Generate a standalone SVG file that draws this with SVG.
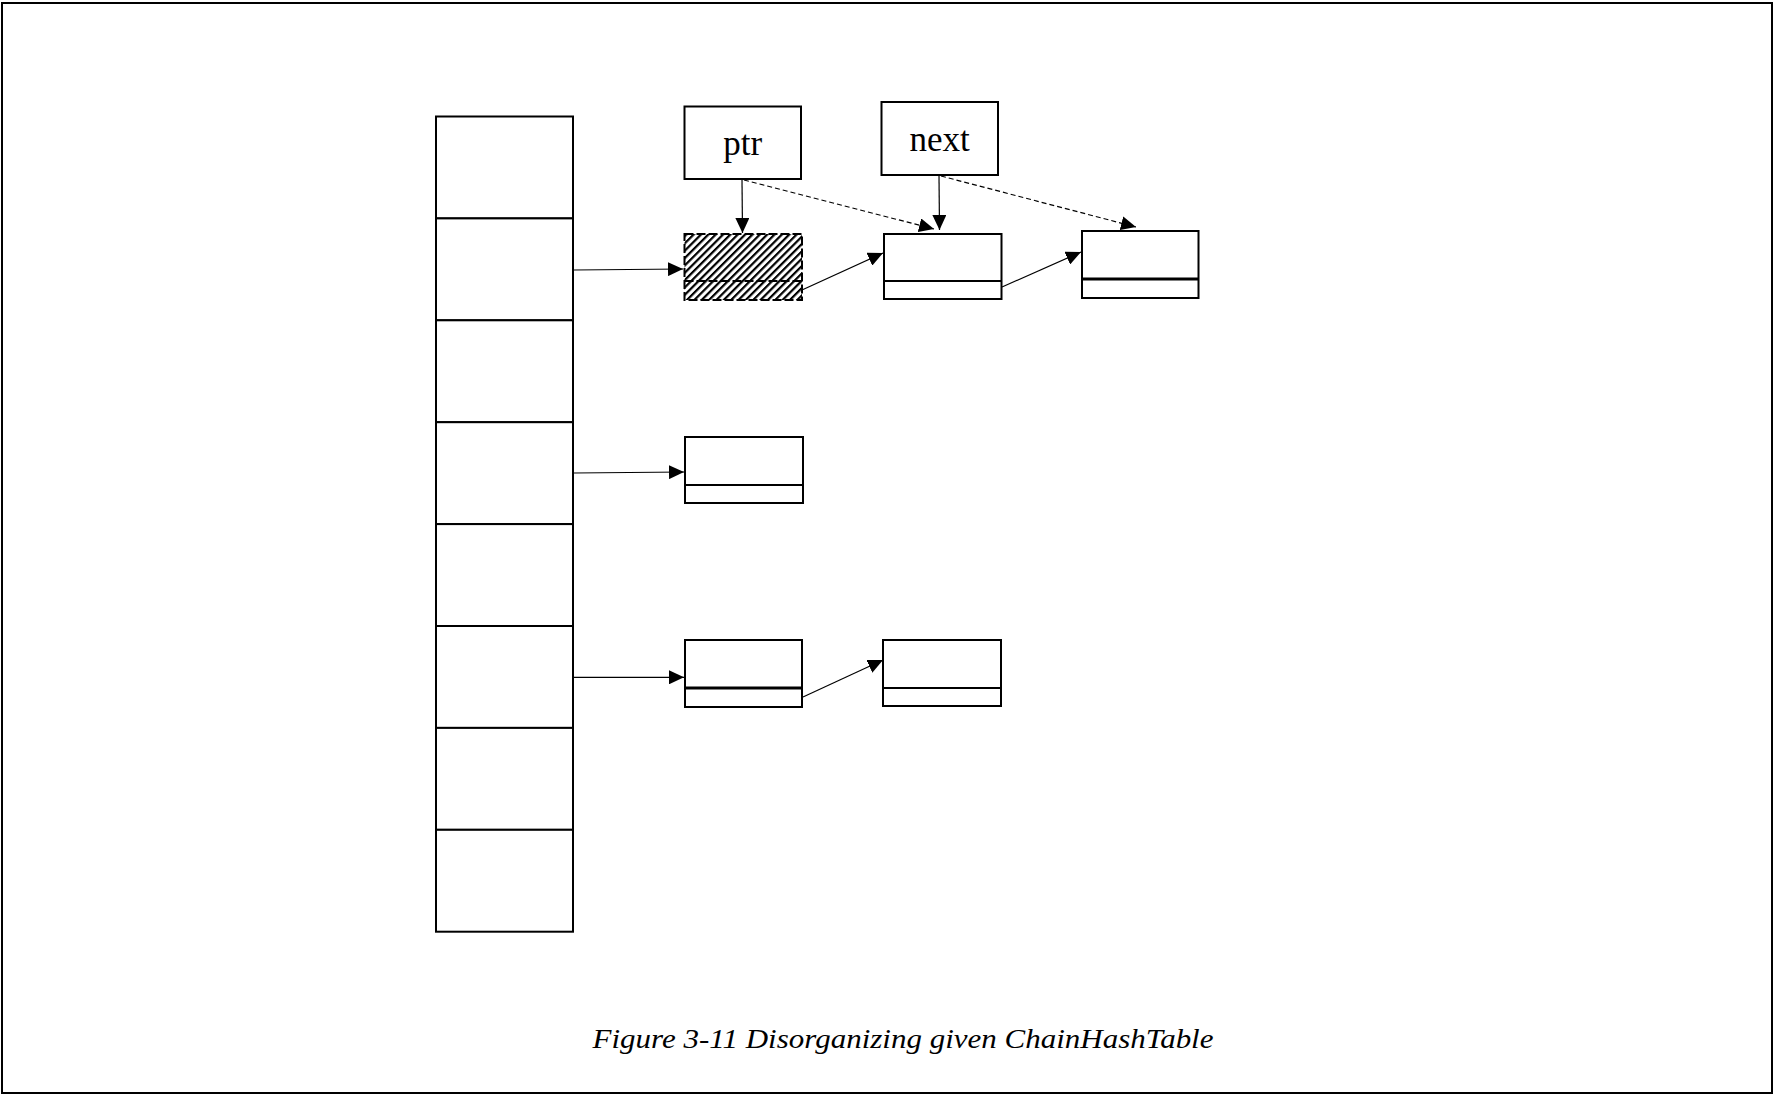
<svg xmlns="http://www.w3.org/2000/svg" width="1774" height="1096" viewBox="0 0 1774 1096">
<style>
.frame{fill:none;stroke:#000;stroke-width:2}
.box{fill:#fff;stroke:#000;stroke-width:2}
.cell{fill:#fff;stroke:#000;stroke-width:2}
.conn{fill:none;stroke:#000;stroke-width:1.2}
.dash{fill:none;stroke:#000;stroke-width:1.2;stroke-dasharray:5,3}
.lbl{font-family:"Liberation Serif","Times New Roman",serif;font-size:35px;fill:#000;text-anchor:middle}
.cap{font-family:"Liberation Serif","Times New Roman",serif;font-size:27.5px;font-style:italic;fill:#000;text-anchor:middle}
</style>
<defs>
<marker id="ah" markerUnits="userSpaceOnUse" markerWidth="16" markerHeight="14" refX="15" refY="7" orient="auto">
<path d="M0,0 L15,7 L0,14 z" fill="#000"/>
</marker>
<pattern id="hatch" patternUnits="userSpaceOnUse" width="5.2" height="5.2" patternTransform="rotate(45)">
<rect width="5.2" height="5.2" fill="#fff"/>
<line x1="1" y1="0" x2="1" y2="5.2" stroke="#000" stroke-width="2.4"/>
</pattern>
</defs>
<rect class="frame" x="2" y="3" width="1770" height="1090"/>

<g id="table">
<rect class="cell" x="436" y="116.5" width="137" height="101.9"/>
<rect class="cell" x="436" y="218.4" width="137" height="101.9"/>
<rect class="cell" x="436" y="320.3" width="137" height="101.9"/>
<rect class="cell" x="436" y="422.2" width="137" height="101.9"/>
<rect class="cell" x="436" y="524.1" width="137" height="101.9"/>
<rect class="cell" x="436" y="626.0" width="137" height="101.9"/>
<rect class="cell" x="436" y="727.9" width="137" height="101.9"/>
<rect class="cell" x="436" y="829.8" width="137" height="101.9"/>
</g>

<g id="ptr">
<rect class="box" x="684.5" y="106.5" width="116.5" height="72.5"/>
<text class="lbl" x="742.8" y="155">ptr</text>
</g>
<g id="next">
<rect class="box" x="881.5" y="102" width="116.5" height="73"/>
<text class="lbl" x="939.7" y="151">next</text>
</g>

<g id="node1">
<rect x="684.5" y="234" width="117.5" height="66" fill="url(#hatch)"/>
<rect x="684.5" y="234" width="117.5" height="66" fill="none" stroke="#000" stroke-width="2" stroke-dasharray="9,3"/>
<line x1="684.5" y1="281" x2="802" y2="281" stroke="#000" stroke-width="2" stroke-dasharray="9,3"/>
</g>
<g id="node2">
<rect class="box" x="884" y="234" width="117.5" height="65"/>
<line x1="884" y1="281" x2="1001.5" y2="281" stroke="#000" stroke-width="2"/>
</g>
<g id="node3">
<rect class="box" x="1082" y="231" width="116.5" height="67"/>
<line x1="1082" y1="279" x2="1198.5" y2="279" stroke="#000" stroke-width="3"/>
</g>
<g id="node4">
<rect class="box" x="685" y="437" width="118" height="66"/>
<line x1="685" y1="485" x2="803" y2="485" stroke="#000" stroke-width="2"/>
</g>
<g id="node5">
<rect class="box" x="685" y="640" width="117" height="67"/>
<line x1="685" y1="688" x2="802" y2="688" stroke="#000" stroke-width="3"/>
</g>
<g id="node6">
<rect class="box" x="883" y="640" width="118" height="66"/>
<line x1="883" y1="688" x2="1001" y2="688" stroke="#000" stroke-width="2"/>
</g>

<g id="connectors">
<line class="conn" x1="574" y1="270" x2="683" y2="269" marker-end="url(#ah)"/>
<line class="conn" x1="574" y1="473" x2="684" y2="472" marker-end="url(#ah)"/>
<line class="conn" x1="574" y1="677.3" x2="684" y2="677.3" marker-end="url(#ah)"/>
<line class="conn" x1="742" y1="180" x2="742.5" y2="233" marker-end="url(#ah)"/>
<line class="conn" x1="939" y1="176" x2="939.5" y2="230" marker-end="url(#ah)"/>
<line class="dash" x1="744" y1="180" x2="934" y2="229" marker-end="url(#ah)"/>
<line class="dash" x1="941" y1="176" x2="1136" y2="227" marker-end="url(#ah)"/>
<line class="conn" x1="802" y1="290" x2="883" y2="253" marker-end="url(#ah)"/>
<line class="conn" x1="1002" y1="287" x2="1081" y2="252" marker-end="url(#ah)"/>
<line class="conn" x1="803" y1="697" x2="883" y2="660" marker-end="url(#ah)"/>
</g>

<text class="cap" x="903" y="1048" textLength="621" lengthAdjust="spacingAndGlyphs">Figure 3-11 Disorganizing given ChainHashTable</text>
</svg>
